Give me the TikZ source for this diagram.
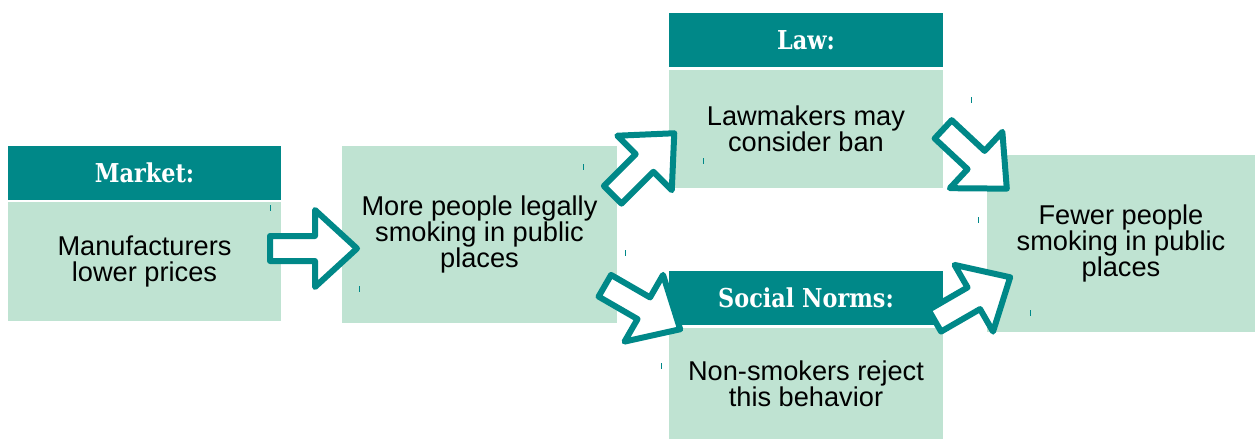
\documentclass[tikz,border=0pt]{standalone}
\usepackage{fontspec}
\setmainfont{Liberation Sans}
\newfontfamily\headfont[FakeStretch=0.86]{DejaVu Serif}
\usetikzlibrary{positioning}

\definecolor{headteal}{RGB}{0,136,136}
\definecolor{boxgreen}{RGB}{191,227,210}

\tikzset{
  head/.style={fill=headteal, text=white, minimum width=136.5pt, minimum height=27pt,
    inner sep=0pt, font=\headfont\bfseries\fontsize{13}{13}\selectfont},
  body/.style={fill=boxgreen, minimum width=136.5pt, inner sep=0pt, align=center,
    font=\fontsize{13.6}{13}\selectfont},
  % hollow block arrow, tail at -43.5, tip at 43.5 (pixel units)
  blockarrow/.pic={
    \draw[headteal, fill=white, line width=3pt, line join=round]
      (-43.5,-12.5) -- (1.5,-12.5) -- (1.5,-38.5) -- (43.5,0)
      -- (1.5,38.5) -- (1.5,12.5) -- (-43.5,12.5) -- cycle;
  },
  speck/.style={headteal, line width=0.5pt}
}

\begin{document}
\begin{tikzpicture}[x=0.5pt,y=-0.5pt]
  \useasboundingbox (0,0) rectangle (1255,439);
  % boxes
  \node[head] (market) at (144.5,172.5) {Market:};
  \node[body, minimum height=59.5pt, below=1pt of market] (prices) {Manufacturers\\lower prices};
  \node[body, minimum width=137.5pt, minimum height=88.5pt] (public) at (479.5,234.5) {More people legally\\smoking in public\\places};
  \node[head, minimum width=137pt] (law) at (806,40) {Law:};
  \node[body, minimum width=137pt, minimum height=59pt, below=1pt of law] (ban) {Lawmakers may\\consider ban};
  \node[head, minimum width=137pt] (norms) at (806,298) {Social Norms:};
  \node[body, minimum width=137pt, minimum height=55.5pt, below=1pt of norms] (reject) {Non-smokers reject\\this behavior};
  \node[body, minimum width=134pt, minimum height=88.5pt] (fewer) at (1121,243.5) {Fewer people\\smoking in public\\places};
  % block arrows on top
  \pic (a1) at (313.5,248.5) {blockarrow};
  \pic[rotate=45] (a2) at (643.5,164) {blockarrow};
  \pic[rotate=-30] (a3) at (642.5,307.5) {blockarrow};
  \pic[rotate=-43] (a4) at (975,159) {blockarrow};
  \pic[rotate=30] (a5) at (972.5,299) {blockarrow};
  % little marks
  \foreach \x/\y in {270/208, 359/289, 583/167, 703/161, 971/100, 625/253, 661/366, 978/220, 1030/313}
    \draw[speck] (\x,\y-3) -- (\x,\y+3);
\end{tikzpicture}
\end{document}
